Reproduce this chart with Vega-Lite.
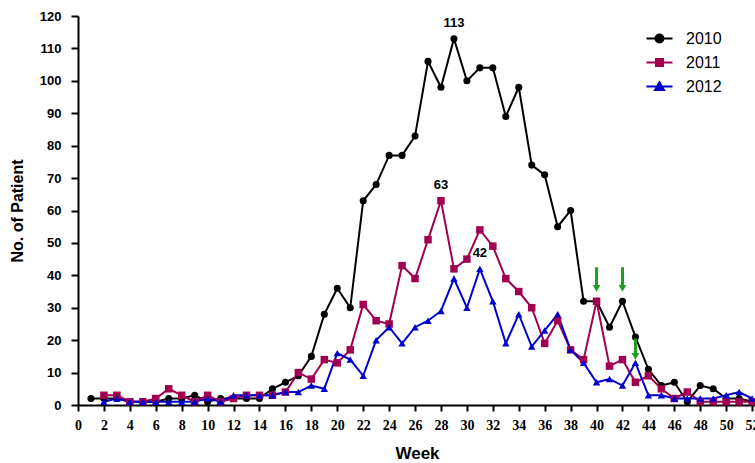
{
  "$schema": "https://vega.github.io/schema/vega-lite/v6.json",
  "width": 678,
  "height": 389,
  "autosize": {"type": "none"},
  "padding": {"left": 78, "top": 16, "right": 0, "bottom": 58},
  "background": "white",
  "config": {
    "view": {"stroke": null},
    "font": "Liberation Sans",
    "axis": {"grid": false, "labelOverlap": false, "labelFlush": false, "domainColor": "black", "domainWidth": 2, "tickColor": "black", "tickWidth": 2, "labelColor": "black", "titleColor": "black", "labelFontWeight": "bold", "titleFontWeight": "bold"},
    "legend": {"orient": "none", "legendX": 572, "legendY": 13, "padding": 0, "symbolSize": 289, "symbolStrokeWidth": 2, "labelFontSize": 16, "labelFont": "Liberation Sans", "labelColor": "black", "labelOffset": 17, "rowPadding": 6}
  },
  "datasets": {
    "cases": [
      {"week": 1, "year": "2010", "value": 2}, {"week": 2, "year": "2010", "value": 2}, {"week": 3, "year": "2010", "value": 2}, {"week": 4, "year": "2010", "value": 1}, {"week": 5, "year": "2010", "value": 1}, {"week": 6, "year": "2010", "value": 1}, {"week": 7, "year": "2010", "value": 2}, {"week": 8, "year": "2010", "value": 2}, {"week": 9, "year": "2010", "value": 3}, {"week": 10, "year": "2010", "value": 1}, {"week": 11, "year": "2010", "value": 2}, {"week": 12, "year": "2010", "value": 2}, {"week": 13, "year": "2010", "value": 2}, {"week": 14, "year": "2010", "value": 2}, {"week": 15, "year": "2010", "value": 5}, {"week": 16, "year": "2010", "value": 7}, {"week": 17, "year": "2010", "value": 9}, {"week": 18, "year": "2010", "value": 15}, {"week": 19, "year": "2010", "value": 28}, {"week": 20, "year": "2010", "value": 36}, {"week": 21, "year": "2010", "value": 30}, {"week": 22, "year": "2010", "value": 63}, {"week": 23, "year": "2010", "value": 68}, {"week": 24, "year": "2010", "value": 77}, {"week": 25, "year": "2010", "value": 77}, {"week": 26, "year": "2010", "value": 83}, {"week": 27, "year": "2010", "value": 106}, {"week": 28, "year": "2010", "value": 98}, {"week": 29, "year": "2010", "value": 113}, {"week": 30, "year": "2010", "value": 100}, {"week": 31, "year": "2010", "value": 104}, {"week": 32, "year": "2010", "value": 104}, {"week": 33, "year": "2010", "value": 89}, {"week": 34, "year": "2010", "value": 98}, {"week": 35, "year": "2010", "value": 74}, {"week": 36, "year": "2010", "value": 71}, {"week": 37, "year": "2010", "value": 55}, {"week": 38, "year": "2010", "value": 60}, {"week": 39, "year": "2010", "value": 32}, {"week": 40, "year": "2010", "value": 32}, {"week": 41, "year": "2010", "value": 24}, {"week": 42, "year": "2010", "value": 32}, {"week": 43, "year": "2010", "value": 21}, {"week": 44, "year": "2010", "value": 11}, {"week": 45, "year": "2010", "value": 6}, {"week": 46, "year": "2010", "value": 7}, {"week": 47, "year": "2010", "value": 1}, {"week": 48, "year": "2010", "value": 6}, {"week": 49, "year": "2010", "value": 5}, {"week": 50, "year": "2010", "value": 2}, {"week": 51, "year": "2010", "value": 2}, {"week": 52, "year": "2010", "value": 1},
      {"week": 2, "year": "2011", "value": 3}, {"week": 3, "year": "2011", "value": 3}, {"week": 4, "year": "2011", "value": 1}, {"week": 5, "year": "2011", "value": 1}, {"week": 6, "year": "2011", "value": 2}, {"week": 7, "year": "2011", "value": 5}, {"week": 8, "year": "2011", "value": 3}, {"week": 9, "year": "2011", "value": 1}, {"week": 10, "year": "2011", "value": 3}, {"week": 11, "year": "2011", "value": 1}, {"week": 12, "year": "2011", "value": 2}, {"week": 13, "year": "2011", "value": 3}, {"week": 14, "year": "2011", "value": 3}, {"week": 15, "year": "2011", "value": 3}, {"week": 16, "year": "2011", "value": 4}, {"week": 17, "year": "2011", "value": 10}, {"week": 18, "year": "2011", "value": 8}, {"week": 19, "year": "2011", "value": 14}, {"week": 20, "year": "2011", "value": 13}, {"week": 21, "year": "2011", "value": 17}, {"week": 22, "year": "2011", "value": 31}, {"week": 23, "year": "2011", "value": 26}, {"week": 24, "year": "2011", "value": 25}, {"week": 25, "year": "2011", "value": 43}, {"week": 26, "year": "2011", "value": 39}, {"week": 27, "year": "2011", "value": 51}, {"week": 28, "year": "2011", "value": 63}, {"week": 29, "year": "2011", "value": 42}, {"week": 30, "year": "2011", "value": 45}, {"week": 31, "year": "2011", "value": 54}, {"week": 32, "year": "2011", "value": 49}, {"week": 33, "year": "2011", "value": 39}, {"week": 34, "year": "2011", "value": 35}, {"week": 35, "year": "2011", "value": 30}, {"week": 36, "year": "2011", "value": 19}, {"week": 37, "year": "2011", "value": 26}, {"week": 38, "year": "2011", "value": 17}, {"week": 39, "year": "2011", "value": 14}, {"week": 40, "year": "2011", "value": 32}, {"week": 41, "year": "2011", "value": 12}, {"week": 42, "year": "2011", "value": 14}, {"week": 43, "year": "2011", "value": 7}, {"week": 44, "year": "2011", "value": 9}, {"week": 45, "year": "2011", "value": 5}, {"week": 46, "year": "2011", "value": 2}, {"week": 47, "year": "2011", "value": 4}, {"week": 48, "year": "2011", "value": 1}, {"week": 49, "year": "2011", "value": 1}, {"week": 50, "year": "2011", "value": 1}, {"week": 51, "year": "2011", "value": 1}, {"week": 52, "year": "2011", "value": 1},
      {"week": 2, "year": "2012", "value": 1}, {"week": 3, "year": "2012", "value": 2}, {"week": 4, "year": "2012", "value": 1}, {"week": 5, "year": "2012", "value": 1}, {"week": 6, "year": "2012", "value": 1}, {"week": 7, "year": "2012", "value": 1}, {"week": 8, "year": "2012", "value": 1}, {"week": 9, "year": "2012", "value": 1}, {"week": 10, "year": "2012", "value": 2}, {"week": 11, "year": "2012", "value": 1}, {"week": 12, "year": "2012", "value": 3}, {"week": 13, "year": "2012", "value": 3}, {"week": 14, "year": "2012", "value": 3}, {"week": 15, "year": "2012", "value": 3}, {"week": 16, "year": "2012", "value": 4}, {"week": 17, "year": "2012", "value": 4}, {"week": 18, "year": "2012", "value": 6}, {"week": 19, "year": "2012", "value": 5}, {"week": 20, "year": "2012", "value": 16}, {"week": 21, "year": "2012", "value": 14}, {"week": 22, "year": "2012", "value": 9}, {"week": 23, "year": "2012", "value": 20}, {"week": 24, "year": "2012", "value": 24}, {"week": 25, "year": "2012", "value": 19}, {"week": 26, "year": "2012", "value": 24}, {"week": 27, "year": "2012", "value": 26}, {"week": 28, "year": "2012", "value": 29}, {"week": 29, "year": "2012", "value": 39}, {"week": 30, "year": "2012", "value": 30}, {"week": 31, "year": "2012", "value": 42}, {"week": 32, "year": "2012", "value": 32}, {"week": 33, "year": "2012", "value": 19}, {"week": 34, "year": "2012", "value": 28}, {"week": 35, "year": "2012", "value": 18}, {"week": 36, "year": "2012", "value": 23}, {"week": 37, "year": "2012", "value": 28}, {"week": 38, "year": "2012", "value": 17}, {"week": 39, "year": "2012", "value": 13}, {"week": 40, "year": "2012", "value": 7}, {"week": 41, "year": "2012", "value": 8}, {"week": 42, "year": "2012", "value": 6}, {"week": 43, "year": "2012", "value": 13}, {"week": 44, "year": "2012", "value": 3}, {"week": 45, "year": "2012", "value": 3}, {"week": 46, "year": "2012", "value": 2}, {"week": 47, "year": "2012", "value": 2}, {"week": 48, "year": "2012", "value": 2}, {"week": 49, "year": "2012", "value": 2}, {"week": 50, "year": "2012", "value": 3}, {"week": 51, "year": "2012", "value": 4}, {"week": 52, "year": "2012", "value": 2}
    ],
    "peaks": [
      {"week": 29, "value": 113, "label": "113"},
      {"week": 28, "value": 63, "label": "63"},
      {"week": 31, "value": 42, "label": "42"}
    ],
    "arrows": [
      {"week": 40, "top": 42.5, "head": 36},
      {"week": 42, "top": 42.5, "head": 36},
      {"week": 43, "top": 20.5, "head": 15}
    ]
  },
  "encoding": {
    "x": {"field": "week", "type": "quantitative", "scale": {"domain": [0, 52.3], "nice": false, "zero": false},
      "axis": {"values": [0,2,4,6,8,10,12,14,16,18,20,22,24,26,28,30,32,34,36,38,40,42,44,46,48,50,52], "title": "Week", "labelFont": "Liberation Sans Narrow", "labelFontSize": 14, "labelOverlap": false, "tickSize": 6, "labelPadding": 7, "titleFontSize": 17, "titlePadding": 13}},
    "y": {"field": "value", "type": "quantitative", "scale": {"domain": [0, 120], "nice": false},
      "axis": {"values": [0,10,20,30,40,50,60,70,80,90,100,110,120], "title": "No. of Patient", "labelFontSize": 13, "labelOverlap": false, "tickSize": 7, "labelPadding": 10, "titleFontSize": 16, "titlePadding": 14}}
  },
  "layer": [
    {
      "data": {"name": "cases"},
      "transform": [{"filter": "false"}],
      "mark": {"type": "point", "filled": true, "strokeWidth": 2, "size": 289, "opacity": 1},
      "encoding": {
        "color": {"field": "year", "type": "nominal",
          "scale": {"domain": ["2010", "2011", "2012"], "range": ["#000000", "#a0004f", "#0000cc"]},
          "legend": {"title": null}},
        "stroke": {"field": "year", "type": "nominal",
          "scale": {"domain": ["2010", "2011", "2012"], "range": ["#000000", "#a0004f", "#0000cc"]},
          "legend": {"title": null}},
        "shape": {"field": "year", "type": "nominal",
          "scale": {"domain": ["2010", "2011", "2012"], "range": ["M-1.53,0H1.53M0.47,0A0.47,0.47,0,1,1,-0.47,0A0.47,0.47,0,1,1,0.47,0Z", "M-1.53,0H1.53M-0.41,-0.41H0.41V0.41H-0.41Z", "M-1.53,0H1.53M0,-0.5L0.53,0.42H-0.53Z"]},
          "legend": {"title": null}}
      }
    },
    {
      "data": {"name": "cases"},
      "mark": {"type": "line", "strokeWidth": 2},
      "encoding": {
        "color": {"field": "year", "type": "nominal"}
      }
    },
    {
      "data": {"name": "cases"},
      "transform": [{"filter": "datum.year === '2010'"}],
      "mark": {"type": "point", "shape": "circle", "filled": true, "size": 50, "opacity": 1},
      "encoding": {
        "color": {"field": "year", "type": "nominal"}
      }
    },
    {
      "data": {"name": "cases"},
      "transform": [{"filter": "datum.year === '2011'"}],
      "mark": {"type": "point", "shape": "square", "filled": true, "size": 56, "opacity": 1},
      "encoding": {
        "color": {"field": "year", "type": "nominal"}
      }
    },
    {
      "data": {"name": "cases"},
      "transform": [{"filter": "datum.year === '2012'"}],
      "mark": {"type": "point", "shape": "triangle-up", "filled": true, "size": 55, "opacity": 1},
      "encoding": {
        "color": {"field": "year", "type": "nominal"}
      }
    },
    {
      "data": {"name": "peaks"},
      "mark": {"type": "text", "fontWeight": "bold", "fontSize": 13, "baseline": "bottom", "dy": -9, "color": "black"},
      "encoding": {
        "text": {"field": "label"}
      }
    },
    {
      "data": {"name": "arrows"},
      "mark": {"type": "rule", "strokeWidth": 3, "color": "#1e9e1e"},
      "encoding": {
        "y": {"field": "top", "type": "quantitative"},
        "y2": {"field": "head"}
      }
    },
    {
      "data": {"name": "arrows"},
      "mark": {"type": "point", "shape": "triangle-down", "filled": true, "size": 60, "color": "#1e9e1e", "opacity": 1},
      "encoding": {
        "y": {"field": "head", "type": "quantitative"}
      }
    }
  ]
}
